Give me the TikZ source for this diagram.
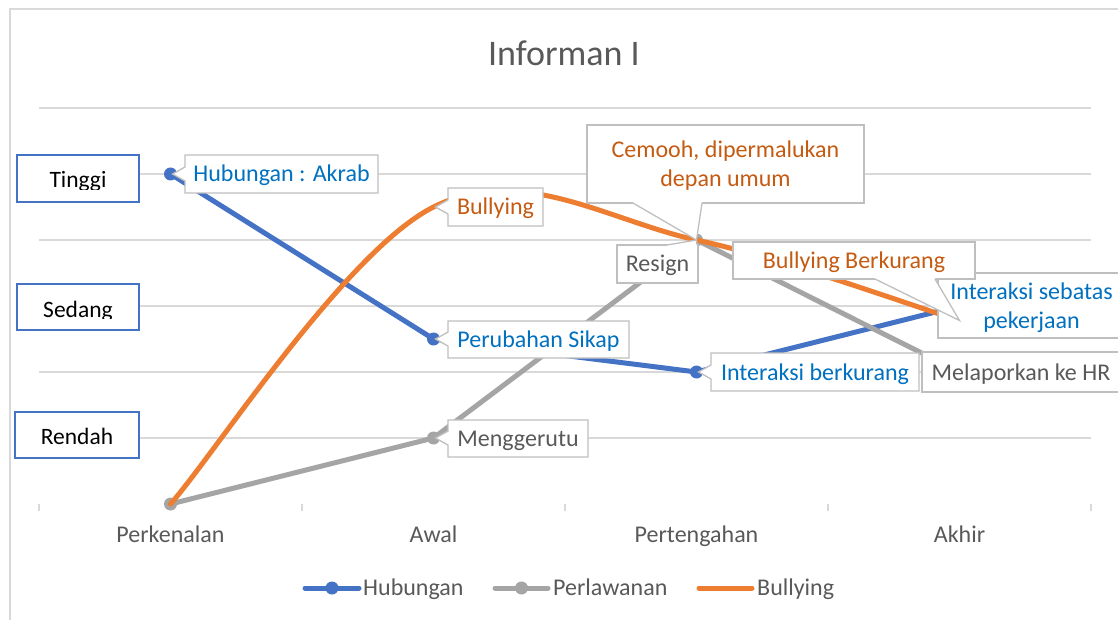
\documentclass[tikz,border=0pt]{standalone}
\usepackage{fontspec}
\setmainfont{Carlito}
\usetikzlibrary{shapes.callouts,calc}
\definecolor{gridc}{HTML}{D9D9D9}
\definecolor{blueS}{HTML}{4472C4}
\definecolor{grayS}{HTML}{A5A5A5}
\definecolor{orangeS}{HTML}{ED7D31}
\definecolor{bluetxt}{HTML}{0070C0}
\definecolor{orangetxt}{HTML}{C55A11}
\definecolor{graytxt}{HTML}{595959}
\definecolor{calb}{HTML}{BFBFBF}
% pointer of a label: #1 and #2 base points on the box edge, #3 tip, (#4,#5) inward offset
\newcommand\callptr[5]{%
  \fill[white] ($(#1)+(#4,#5)$) -- (#1) -- (#3) -- (#2) -- ($(#2)+(#4,#5)$) -- cycle;
  \draw[calb, line width=1.3pt, line join=miter] (#1) -- (#3) -- (#2);}
\begin{document}
\begin{tikzpicture}[x=1pt,y=-1pt,
  grid/.style={draw=gridc, line width=1.5pt},
  series/.style={line width=5pt, line cap=round, line join=round},
  lbl/.style={rectangle callout, draw=calb, fill=white, line width=1.3pt, inner sep=0pt,
    font=\fontsize{24}{29}\selectfont, text height=16pt, text depth=0pt,
    callout pointer width=14pt, callout pointer shorten=2pt},
  plainlbl/.style={rectangle, draw=calb, fill=white, line width=1.3pt, inner sep=0pt,
    font=\fontsize{24}{29}\selectfont},
  twoline/.style={align=center, text height=45pt, text depth=0pt},
  levelbox/.style={rectangle, draw=blueS, fill=white, line width=2pt, inner sep=0pt},
  leveltxt/.style={anchor=base, inner sep=0pt, text=black, font=\fontsize{23.5}{28}\selectfont},
  axlbl/.style={anchor=base, inner sep=0pt, text=graytxt, font=\fontsize{24}{29}\selectfont},
  leg/.style={anchor=base west, inner sep=0pt, text=graytxt, font=\fontsize{24}{29}\selectfont}]
\useasboundingbox (0,0) rectangle (1118,620);
\fill[white] (0,0) rectangle (1118,620);
% chart frame
\draw[grid] (10,620) -- (10,9) -- (1118,9);
% gridlines and ticks
\foreach \yy in {108,174,240,306,372,438} \draw[grid] (39,\yy) -- (1091,\yy);
\foreach \xx in {39,302,565,828,1091} \draw[grid] (\xx,504) -- (\xx,511);
% title
\node[anchor=base, inner sep=0pt, text=graytxt, font=\fontsize{36}{43}\selectfont] (title) at (564,66) {Informan I};
% level boxes
\node[levelbox, minimum width=122pt, minimum height=47pt] (tinggi) at (78,178.5) {};
\node[leveltxt] (tinggitxt) at (78,188) {Tinggi};
\fill[white] (19,190) rectangle (137,200.8);
\node[levelbox, minimum width=122pt, minimum height=46pt] (sedang) at (78,307) {};
\node[leveltxt] (sedangtxt) at (78,317) {Sedang};
\fill[white] (19,318.5) rectangle (137,328.8);
\node[levelbox, minimum width=124pt, minimum height=46pt] (rendah) at (77,435) {};
\node[leveltxt] (rendahtxt) at (77,444) {Rendah};
% axis labels
\node[axlbl] (c1) at (170.5,542) {Perkenalan};
\node[axlbl] (c2) at (433.5,542) {Awal};
\node[axlbl] (c3) at (696.5,542) {Pertengahan};
\node[axlbl] (c4) at (959.5,542) {Akhir};
% legend
\coordinate (lg1a) at (305,588); \coordinate (lg1b) at (359,588);
\draw[series, blueS] (lg1a) -- (lg1b);
\fill[blueS] (332,588) circle (6.5);
\node[leg] (leg1) at (363,595) {Hubungan};
\coordinate (lg2a) at (495,588); \coordinate (lg2b) at (548,588);
\draw[series, grayS] (lg2a) -- (lg2b);
\fill[grayS] (521.5,588) circle (6.5);
\node[leg] (leg2) at (553,595) {Perlawanan};
\coordinate (lg3a) at (699,588); \coordinate (lg3b) at (752,588);
\draw[series, orangeS] (lg3a) -- (lg3b);
\node[leg] (leg3) at (757,595) {Bullying};
% data points
\coordinate (h1) at (170.5,174); \coordinate (h2) at (433.5,339);
\coordinate (h3) at (696.5,372); \coordinate (h4) at (959.5,306);
\coordinate (p1) at (170.5,504); \coordinate (p2) at (433.5,438);
\coordinate (p3) at (696.5,240); \coordinate (p4) at (959.5,372);
\coordinate (b1) at (170.5,504); \coordinate (b2) at (433.5,207);
\coordinate (b3) at (696.5,240); \coordinate (b4) at (959.5,320.5);
% Hubungan
\draw[series, blueS] (h1) -- (h2) -- (h3) -- (h4);
\foreach \c in {h1,h2,h3,h4} \fill[blueS] (\c) circle (6.5);
% Perlawanan
\draw[series, grayS] (p1) -- (p2) -- (p3) -- (p4);
\foreach \c in {p1,p2,p3,p4} \fill[grayS] (\c) circle (6.5);
% Bullying (smoothed)
\draw[series, orangeS] (b1) .. controls (214.3,454.5) and (345.8,251) .. (b2)
  .. controls (521.2,163) and (608.8,221.1) .. (b3)
  .. controls (784.2,258.9) and (915.7,307.1) .. (b4);
% labels: Hubungan
\node[lbl, text=bluetxt, minimum width=193pt, minimum height=38pt, callout absolute pointer={(h1)}] (lakrab) at (281.5,174) {Hubungan : Akrab};
\node[lbl, text=bluetxt, minimum width=181pt, minimum height=37pt, callout absolute pointer={(h2)}] (lsikap) at (538.5,339.5) {Perubahan Sikap};
\node[lbl, text=bluetxt, minimum width=208pt, minimum height=38pt, callout absolute pointer={(h3)}] (lberk) at (815,372) {Interaksi berkurang};
\node[plainlbl, twoline, text=bluetxt, minimum width=187pt, minimum height=65pt] (lsebatas) at (1031.5,305.5) {Interaksi sebatas\\pekerjaan};
% labels: Perlawanan
\node[lbl, text=graytxt, minimum width=140pt, minimum height=37pt, callout absolute pointer={(p2)}] (lgerutu) at (518,438.5) {Menggerutu};
\node[plainlbl, text=graytxt, minimum width=81pt, minimum height=38pt, text height=16pt, text depth=0pt] (lresign) at (657.5,264) {Resign};
\callptr{667,245}{697,245}{p3}{0}{1.5}
\node[plainlbl, text=graytxt, minimum width=198pt, minimum height=40pt, text height=16pt, text depth=0pt] (lhr) at (1021,372) {Melaporkan ke HR};
% labels: Bullying
\node[lbl, text=orangetxt, minimum width=95pt, minimum height=38pt, callout absolute pointer={(b2)}] (lbully) at (495.5,207) {Bullying};
\node[plainlbl, twoline, text=orangetxt, minimum width=277pt, minimum height=78pt] (lcemooh) at (725.5,164) {Cemooh, dipermalukan\\depan umum};
\callptr{633,203}{702,203}{b3}{0}{-1.5}
\node[plainlbl, text=orangetxt, minimum width=242pt, minimum height=37pt, text height=16pt, text depth=0pt] (lbb) at (854,260.5) {Bullying Berkurang};
\callptr{875,279}{935,279}{b4}{0}{-1.5}
\end{tikzpicture}
\end{document}
